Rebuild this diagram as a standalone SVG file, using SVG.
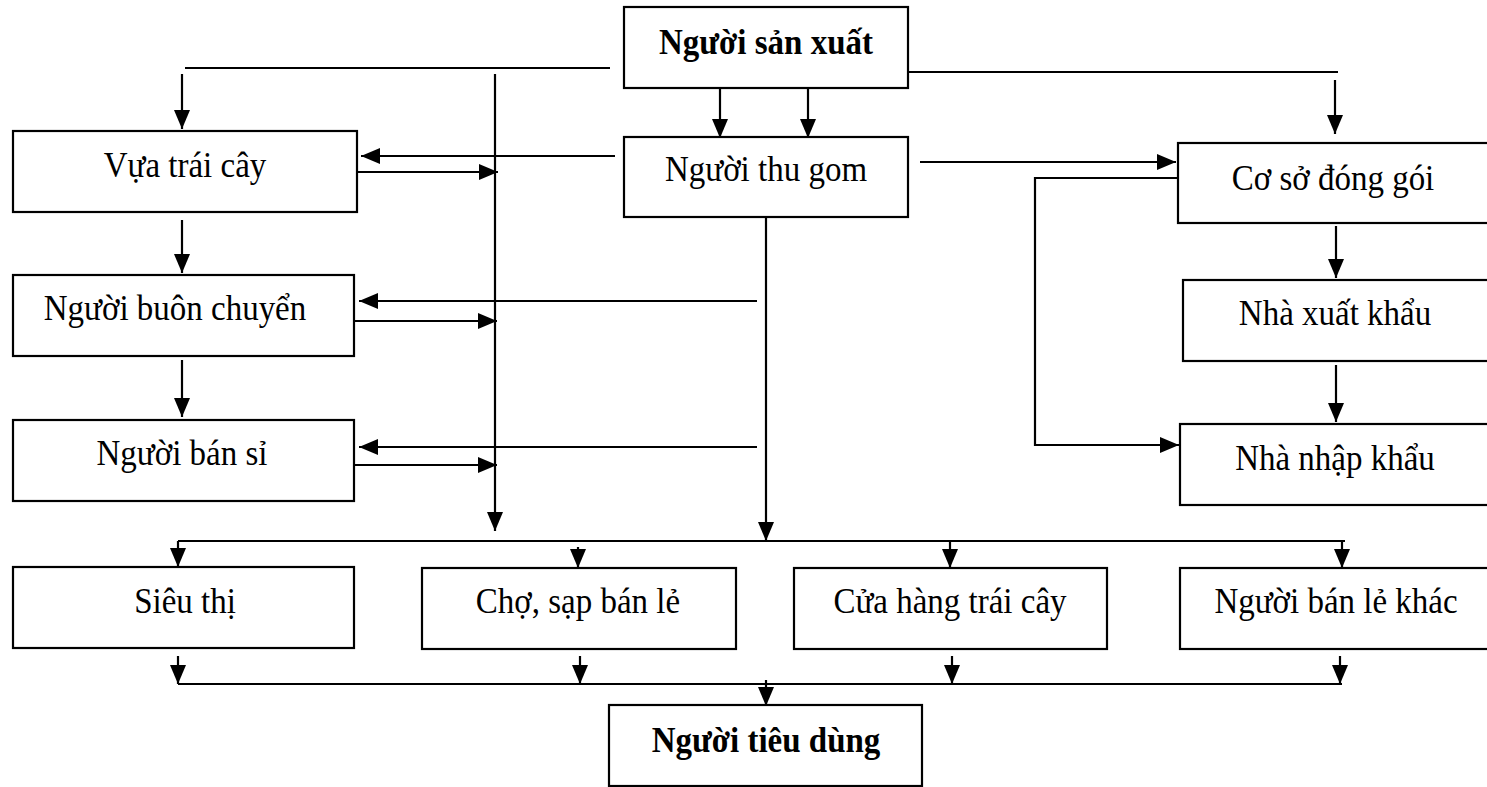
<svg xmlns="http://www.w3.org/2000/svg" width="1487" height="787" viewBox="0 0 1487 787">
<defs>
<marker id="ah" markerUnits="userSpaceOnUse" markerWidth="22" markerHeight="18" refX="19" refY="8" orient="auto">
<path d="M0,0 L19,8 L0,16 z" fill="#000"/>
</marker>
<style>
.box{fill:#fff;stroke:#000;stroke-width:2.2}
.t{font-family:"Liberation Serif","Times New Roman",serif;font-size:33px;fill:#000;text-anchor:middle}
.b{font-weight:bold}
.c{fill:none;stroke:#000;stroke-width:2.2}
.a{marker-end:url(#ah)}
</style>
</defs>
<rect width="1487" height="787" fill="#fff"/>
<g id="connectors">
<polyline class="c" points="610,68 185,68"/>
<line class="c a" x1="182" y1="74" x2="182" y2="129"/>
<line class="c a" x1="495" y1="74" x2="495" y2="531"/>
<polyline class="c" points="908,72 1338,72"/>
<line class="c a" x1="1335" y1="80" x2="1335" y2="134"/>
<line class="c a" x1="720" y1="88" x2="720" y2="138"/>
<line class="c a" x1="808" y1="88" x2="808" y2="138"/>
<line class="c a" x1="615" y1="156" x2="361" y2="156"/>
<line class="c a" x1="357" y1="172" x2="498" y2="172"/>
<line class="c a" x1="920" y1="162" x2="1176" y2="162"/>
<polyline class="c a" points="1178,178 1035,178 1035,445 1179,445"/>
<line class="c a" x1="1336" y1="226" x2="1336" y2="278"/>
<line class="c a" x1="1336" y1="365" x2="1336" y2="422"/>
<line class="c a" x1="182" y1="220" x2="182" y2="273"/>
<line class="c a" x1="182" y1="360" x2="182" y2="417"/>
<line class="c a" x1="757" y1="301" x2="359" y2="301"/>
<line class="c a" x1="354" y1="321" x2="497" y2="321"/>
<line class="c a" x1="757" y1="447" x2="359" y2="447"/>
<line class="c a" x1="354" y1="465" x2="497" y2="465"/>
<line class="c a" x1="766" y1="218" x2="766" y2="541"/>
<polyline class="c" points="178,541 1345,541"/>
<line class="c a" x1="178" y1="541" x2="178" y2="567"/>
<line class="c a" x1="578" y1="547" x2="578" y2="568"/>
<line class="c a" x1="950" y1="541" x2="950" y2="568"/>
<line class="c a" x1="1342" y1="541" x2="1342" y2="568"/>
<line class="c a" x1="178" y1="656" x2="178" y2="684"/>
<line class="c a" x1="580" y1="656" x2="580" y2="684"/>
<line class="c a" x1="952" y1="656" x2="952" y2="684"/>
<line class="c a" x1="1340" y1="656" x2="1340" y2="684"/>
<polyline class="c" points="178,684 1342,684"/>
<line class="c a" x1="766" y1="680" x2="766" y2="706"/>
</g>
<g id="n-san-xuat"><rect class="box" x="624" y="7" width="284" height="81"/><text class="t b" transform="translate(766,54) scale(1,1.1)">Người sản xuất</text></g>
<g id="n-thu-gom"><rect class="box" x="624" y="137" width="284" height="80"/><text class="t" transform="translate(766,181) scale(1,1.1)">Người thu gom</text></g>
<g id="n-vua"><rect class="box" x="13" y="131" width="344" height="81"/><text class="t" transform="translate(185,177) scale(1,1.1)">Vựa trái cây</text></g>
<g id="n-buon-chuyen"><rect class="box" x="13" y="275" width="341" height="81"/><text class="t" transform="translate(175,320) scale(1,1.1)">Người buôn chuyển</text></g>
<g id="n-ban-si"><rect class="box" x="13" y="420" width="341" height="81"/><text class="t" transform="translate(182,465) scale(1,1.1)">Người bán sỉ</text></g>
<g id="n-dong-goi"><rect class="box" x="1178" y="143" width="312" height="80"/><text class="t" transform="translate(1333,190) scale(1,1.1)">Cơ sở đóng gói</text></g>
<g id="n-xuat-khau"><rect class="box" x="1183" y="280" width="307" height="81"/><text class="t" transform="translate(1335,325) scale(1,1.1)">Nhà xuất khẩu</text></g>
<g id="n-nhap-khau"><rect class="box" x="1180" y="424" width="310" height="81"/><text class="t" transform="translate(1335,470) scale(1,1.1)">Nhà nhập khẩu</text></g>
<g id="n-sieu-thi"><rect class="box" x="13" y="567" width="341" height="81"/><text class="t" transform="translate(185,613) scale(1,1.1)">Siêu thị</text></g>
<g id="n-cho"><rect class="box" x="422" y="568" width="314" height="81"/><text class="t" transform="translate(578,613) scale(1,1.1)">Chợ, sạp bán lẻ</text></g>
<g id="n-cua-hang"><rect class="box" x="794" y="568" width="313" height="81"/><text class="t" transform="translate(950,613) scale(1,1.1)">Cửa hàng trái cây</text></g>
<g id="n-ban-le-khac"><rect class="box" x="1180" y="568" width="310" height="81"/><text class="t" transform="translate(1336,613) scale(1,1.1)">Người bán lẻ khác</text></g>
<g id="n-tieu-dung"><rect class="box" x="609" y="705" width="313" height="81"/><text class="t b" transform="translate(766,752) scale(1,1.1)">Người tiêu dùng</text></g>
</svg>
